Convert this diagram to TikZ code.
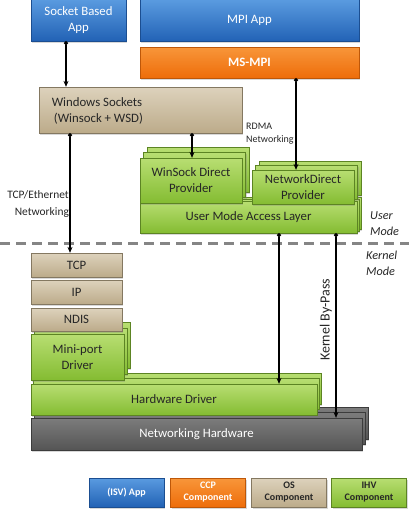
\documentclass[tikz,border=0pt]{standalone}
\usepackage{fontspec}
\setmainfont{Carlito}
\usetikzlibrary{arrows.meta,shadows}
\definecolor{bluetop}{HTML}{5A9BE0}
\definecolor{bluebot}{HTML}{2262B5}
\definecolor{oratop}{HTML}{F8963A}
\definecolor{orabot}{HTML}{EE6D0A}
\definecolor{tantop}{HTML}{DDD2BC}
\definecolor{tanbot}{HTML}{BCAB8A}
\definecolor{grntop}{HTML}{B8DE72}
\definecolor{grnbot}{HTML}{84BC32}
\definecolor{grytop}{HTML}{7C7C7C}
\definecolor{grybot}{HTML}{555555}
\definecolor{dashgray}{HTML}{858585}
\tikzset{
  blk/.style={rectangle, inner sep=0pt, align=center, line width=0.3pt,
    font=\fontsize{12.8}{16}\selectfont,
    drop shadow={shadow xshift=1.2pt,shadow yshift=-1.5pt,opacity=0.3}},
  bluebox/.style={blk, top color=bluetop, bottom color=bluebot, draw=bluebot!80!black, text=white},
  orabox/.style={blk, top color=oratop, bottom color=orabot, draw=orabot!80!black, text=white},
  tanbox/.style={blk, top color=tantop, bottom color=tanbot, draw=tanbot!70!black, text=black!85},
  grnbox/.style={blk, top color=grntop, bottom color=grnbot, draw=grnbot!70!black, text=black!85},
  grybox/.style={blk, top color=grytop, bottom color=grybot, draw=grybot!70!black, text=white},
  legend/.style={font=\fontsize{10}{12}\selectfont\bfseries, minimum width=75pt, minimum height=29pt},
  conn/.style={line width=1.3pt, {Circle[length=4pt]}-{Stealth[length=6pt,width=5pt]}},
  note/.style={inner sep=0pt, align=left, text=black!85},
}
\begin{document}
\begin{tikzpicture}[x=1pt,y=-1pt]
\useasboundingbox[fill=white] (0,0) rectangle (409,509);

% top apps
\node[bluebox, minimum width=95pt, minimum height=42pt] (sock) at (78.5,20) {Socket Based\\App};
\node[bluebox, minimum width=219pt, minimum height=42pt] (mpi) at (249.5,20.5) {MPI App};
\node[orabox, minimum width=219pt, minimum height=31pt, font=\fontsize{12.8}{16}\selectfont\bfseries] (msmpi) at (249.5,62.5) {MS-MPI};
\node[tanbox, minimum width=203pt, minimum height=46pt] (ws) at (140.5,110) {};
\node[note, align=center, font=\fontsize{12.8}{16}\selectfont] (wstext) at (97,111) {Windows Sockets\\ \ (Winsock + WSD)};

% user mode access layer stack
\node[grnbox, minimum width=217pt, minimum height=32pt] (umalC) at (252.5,213) {};
\node[grnbox, minimum width=217pt, minimum height=32pt] (umalB) at (250.5,215) {};
\node[grnbox, minimum width=217pt, minimum height=32pt] (umal) at (248.5,217) {User Mode Access Layer};

% winsock direct provider stack
\node[grnbox, minimum width=102pt, minimum height=45pt] (wsdC) at (198,169.5) {};
\node[grnbox, minimum width=102pt, minimum height=45pt] (wsdB) at (194.5,175) {};
\node[grnbox, minimum width=102pt, minimum height=45pt] (wsd) at (191,180.5) {WinSock Direct\\Provider};

% network direct provider stack
\node[grnbox, minimum width=102pt, minimum height=34pt] (ndC) at (310,178) {};
\node[grnbox, minimum width=102pt, minimum height=34pt] (ndB) at (306.5,182.5) {};
\node[grnbox, minimum width=102pt, minimum height=34pt] (nd) at (303,187) {NetworkDirect\\Provider};

% notes
\node[note, font=\fontsize{10}{12.5}\selectfont, anchor=north west] (rdma) at (246,123) {RDMA\\Networking};
\node[note, align=center, font=\fontsize{11.4}{17}\selectfont] (tcpeth) at (38,204) {TCP/Ethernet\\ \ \ \ Networking};
\node[note, font=\fontsize{12.2}{16}\selectfont\itshape, anchor=west] (umode) at (370,224) {User\\Mode};
\node[note, font=\fontsize{12.2}{16}\selectfont\itshape, anchor=west] (kmode) at (366,263) {Kernel\\Mode};

% mode separator
\coordinate (sepL) at (0,243);
\coordinate (sepR) at (409,243);
\draw[dashgray, line width=3pt, dash pattern=on 10pt off 6pt] (sepL) -- (sepR);

% kernel side: networking hardware stack
\node[grybox, minimum width=331pt, minimum height=32pt] (nhC) at (202.5,423) {};
\node[grybox, minimum width=331pt, minimum height=32pt] (nhB) at (199.5,428.5) {};
\node[grybox, minimum width=331pt, minimum height=32pt] (nh) at (196.5,434) {Networking Hardware};

% hardware driver stack
\node[grnbox, minimum width=286pt, minimum height=31pt] (hwdC) at (178,388.5) {};
\node[grnbox, minimum width=286pt, minimum height=31pt] (hwdB) at (176,394) {};
\node[grnbox, minimum width=286pt, minimum height=31pt] (hwd) at (174,399.5) {Hardware Driver};

% miniport driver stack
\node[grnbox, minimum width=93pt, minimum height=46pt] (miniC) at (83.5,345) {};
\node[grnbox, minimum width=93pt, minimum height=46pt] (miniB) at (80.5,351) {};
\node[grnbox, minimum width=93pt, minimum height=46pt] (mini) at (77.5,357) {Mini-port\\Driver};

% tcp/ip/ndis
\node[tanbox, minimum width=91pt, minimum height=23pt] (ndis) at (76.5,319.5) {NDIS};
\node[tanbox, minimum width=91pt, minimum height=24pt] (ip) at (76.5,292) {IP};
\node[tanbox, minimum width=91pt, minimum height=24pt] (tcp) at (76.5,265) {TCP};

\node[note, rotate=90, font=\fontsize{14}{16}\selectfont] (bypass) at (326,320) {Kernel By-Pass};

% connectors
\draw[conn] ([xshift=-12.5pt]sock.south) -- ([xshift=-12.5pt]sock.south |- ws.north);
\draw[conn] ([xshift=-70.5pt]ws.south) -- ([xshift=-70.5pt]ws.south |- tcp.north);
\draw[conn] ([xshift=51.5pt]ws.south) -- ([xshift=51.5pt]ws.south |- wsd.north);
\draw[conn] ([xshift=46.5pt]msmpi.south) -- ([xshift=46.5pt]msmpi.south |- nd.north);
\draw[conn] ([xshift=30.5pt]umal.south) -- ([xshift=30.5pt]umal.south |- hwd.north);
\draw[conn] ([xshift=87.5pt]umal.south) -- ([xshift=87.5pt]umal.south |- nh.north);

% legend
\node[bluebox, legend] (legisv) at (126.5,492.5) {(ISV) App};
\node[orabox, legend] (legccp) at (208,492.5) {CCP\\Component};
\node[tanbox, legend] (legos) at (289,492.5) {OS\\Component};
\node[grnbox, legend] (legihv) at (369,492.5) {IHV\\Component};
\end{tikzpicture}
\end{document}
